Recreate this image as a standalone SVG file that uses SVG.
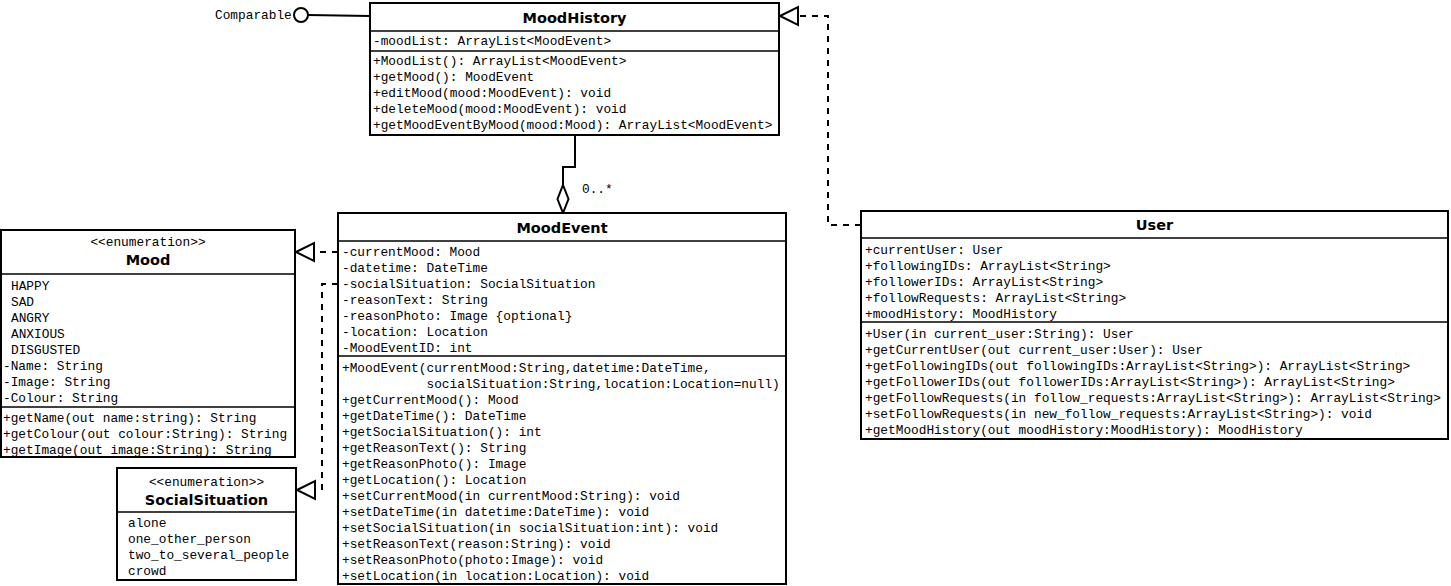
<svg xmlns="http://www.w3.org/2000/svg" width="1451" height="586" viewBox="0 0 1451 586">
<style>
.box{fill:#fff;stroke:#000;stroke-width:2}
.sep{stroke:#000;stroke-width:1.5}
.t{font-family:"Liberation Mono","Courier New",monospace;font-size:12.8px;fill:#000}
.c{text-anchor:middle}
.title{font-family:"DejaVu Sans",Verdana,sans-serif;font-weight:bold;font-size:14.5px;text-anchor:middle;fill:#000}
.ln{fill:none;stroke:#000;stroke-width:2}
.dash{fill:none;stroke:#000;stroke-width:2;stroke-dasharray:6 6}
.tri{fill:#fff;stroke:#000;stroke-width:2}
</style>
<rect width="1451" height="586" fill="#fff"/>

<g id="connectors">
  <!-- Comparable lollipop -->
  <line class="ln" x1="308" y1="15" x2="370" y2="16"/>
  <circle cx="301" cy="15" r="7" fill="#fff" stroke="#000" stroke-width="2"/>
  <!-- User realizes MoodHistory -->
  <path class="dash" d="M861,225 H828 V16 H798"/>
  <polygon class="tri" points="780,16 798,7 798,25"/>
  <!-- Aggregation MoodHistory - MoodEvent -->
  <path class="ln" d="M575,135 V167 H563 V185"/>
  <polygon class="tri" points="563,185 568.5,199 563,213 557.5,199"/>
  <text class="t" x="582" y="193">0..*</text>
  <!-- MoodEvent -> Mood -->
  <path class="dash" d="M338,252 H314"/>
  <polygon class="tri" points="296,252 314,243 314,261"/>
  <!-- MoodEvent -> SocialSituation -->
  <path class="dash" d="M338,284 H322 V490 H315"/>
  <polygon class="tri" points="297,490 315,481 315,499"/>
</g>

<g id="comparable">
  <text class="t" x="215" y="19">Comparable</text>
</g>

<g id="MoodHistory">
  <rect class="box" x="370" y="3" width="409" height="132"/>
  <line class="sep" x1="370" y1="31" x2="779" y2="31"/>
  <line class="sep" x1="370" y1="51" x2="779" y2="51"/>
  <text class="title" x="574.5" y="23">MoodHistory</text>
  <text class="t" x="373" y="45">-moodList: ArrayList&lt;MoodEvent&gt;</text>
  <text class="t" x="373" y="65">+MoodList(): ArrayList&lt;MoodEvent&gt;</text>
  <text class="t" x="373" y="81">+getMood(): MoodEvent</text>
  <text class="t" x="373" y="97">+editMood(mood:MoodEvent): void</text>
  <text class="t" x="373" y="113">+deleteMood(mood:MoodEvent): void</text>
  <text class="t" x="373" y="129">+getMoodEventByMood(mood:Mood): ArrayList&lt;MoodEvent&gt;</text>
</g>

<g id="Mood">
  <rect class="box" x="1" y="230" width="294" height="227"/>
  <line class="sep" x1="1" y1="274" x2="295" y2="274"/>
  <line class="sep" x1="1" y1="407" x2="295" y2="407"/>
  <text class="t c" x="148" y="246">&lt;&lt;enumeration&gt;&gt;</text>
  <text class="title" x="148" y="265">Mood</text>
  <text class="t" x="11" y="290">HAPPY</text>
  <text class="t" x="11" y="306">SAD</text>
  <text class="t" x="11" y="322">ANGRY</text>
  <text class="t" x="11" y="338">ANXIOUS</text>
  <text class="t" x="11" y="354">DISGUSTED</text>
  <text class="t" x="3" y="370">-Name: String</text>
  <text class="t" x="3" y="386">-Image: String</text>
  <text class="t" x="3" y="402">-Colour: String</text>
  <text class="t" x="3" y="422">+getName(out name:string): String</text>
  <text class="t" x="3" y="438">+getColour(out colour:String): String</text>
  <text class="t" x="3" y="454">+getImage(out image:String): String</text>
</g>

<g id="SocialSituation">
  <rect class="box" x="117" y="468" width="179" height="112"/>
  <line class="sep" x1="117" y1="512" x2="296" y2="512"/>
  <text class="t c" x="206.5" y="486">&lt;&lt;enumeration&gt;&gt;</text>
  <text class="title" x="206.5" y="505">SocialSituation</text>
  <text class="t" x="128" y="527">alone</text>
  <text class="t" x="128" y="543">one_other_person</text>
  <text class="t" x="128" y="559">two_to_several_people</text>
  <text class="t" x="128" y="575">crowd</text>
</g>

<g id="MoodEvent">
  <rect class="box" x="338" y="213" width="448" height="371"/>
  <line class="sep" x1="338" y1="241" x2="786" y2="241"/>
  <line class="sep" x1="338" y1="356" x2="786" y2="356"/>
  <text class="title" x="562" y="233">MoodEvent</text>
  <text class="t" x="342" y="256">-currentMood: Mood</text>
  <text class="t" x="342" y="272">-datetime: DateTime</text>
  <text class="t" x="342" y="288">-socialSituation: SocialSituation</text>
  <text class="t" x="342" y="304">-reasonText: String</text>
  <text class="t" x="342" y="320">-reasonPhoto: Image {optional}</text>
  <text class="t" x="342" y="336">-location: Location</text>
  <text class="t" x="342" y="352">-MoodEventID: int</text>
  <text class="t" x="342" y="372">+MoodEvent(currentMood:String,datetime:DateTime,</text>
  <text class="t" x="426.5" y="388">socialSituation:String,location:Location=null)</text>
  <text class="t" x="342" y="404">+getCurrentMood(): Mood</text>
  <text class="t" x="342" y="420">+getDateTime(): DateTime</text>
  <text class="t" x="342" y="436">+getSocialSituation(): int</text>
  <text class="t" x="342" y="452">+getReasonText(): String</text>
  <text class="t" x="342" y="468">+getReasonPhoto(): Image</text>
  <text class="t" x="342" y="484">+getLocation(): Location</text>
  <text class="t" x="342" y="500">+setCurrentMood(in currentMood:String): void</text>
  <text class="t" x="342" y="516">+setDateTime(in datetime:DateTime): void</text>
  <text class="t" x="342" y="532">+setSocialSituation(in socialSituation:int): void</text>
  <text class="t" x="342" y="548">+setReasonText(reason:String): void</text>
  <text class="t" x="342" y="564">+setReasonPhoto(photo:Image): void</text>
  <text class="t" x="342" y="580">+setLocation(in location:Location): void</text>
</g>

<g id="User">
  <rect class="box" x="861" y="211" width="587" height="228"/>
  <line class="sep" x1="861" y1="238" x2="1448" y2="238"/>
  <line class="sep" x1="861" y1="322" x2="1448" y2="322"/>
  <text class="title" x="1154.5" y="230">User</text>
  <text class="t" x="865" y="254">+currentUser: User</text>
  <text class="t" x="865" y="270">+followingIDs: ArrayList&lt;String&gt;</text>
  <text class="t" x="865" y="286">+followerIDs: ArrayList&lt;String&gt;</text>
  <text class="t" x="865" y="302">+followRequests: ArrayList&lt;String&gt;</text>
  <text class="t" x="865" y="318">+moodHistory: MoodHistory</text>
  <text class="t" x="865" y="338">+User(in current_user:String): User</text>
  <text class="t" x="865" y="354">+getCurrentUser(out current_user:User): User</text>
  <text class="t" x="865" y="370">+getFollowingIDs(out followingIDs:ArrayList&lt;String&gt;): ArrayList&lt;String&gt;</text>
  <text class="t" x="865" y="386">+getFollowerIDs(out followerIDs:ArrayList&lt;String&gt;): ArrayList&lt;String&gt;</text>
  <text class="t" x="865" y="402">+getFollowRequests(in follow_requests:ArrayList&lt;String&gt;): ArrayList&lt;String&gt;</text>
  <text class="t" x="865" y="418">+setFollowRequests(in new_follow_requests:ArrayList&lt;String&gt;): void</text>
  <text class="t" x="865" y="434">+getMoodHistory(out moodHistory:MoodHistory): MoodHistory</text>
</g>
</svg>
